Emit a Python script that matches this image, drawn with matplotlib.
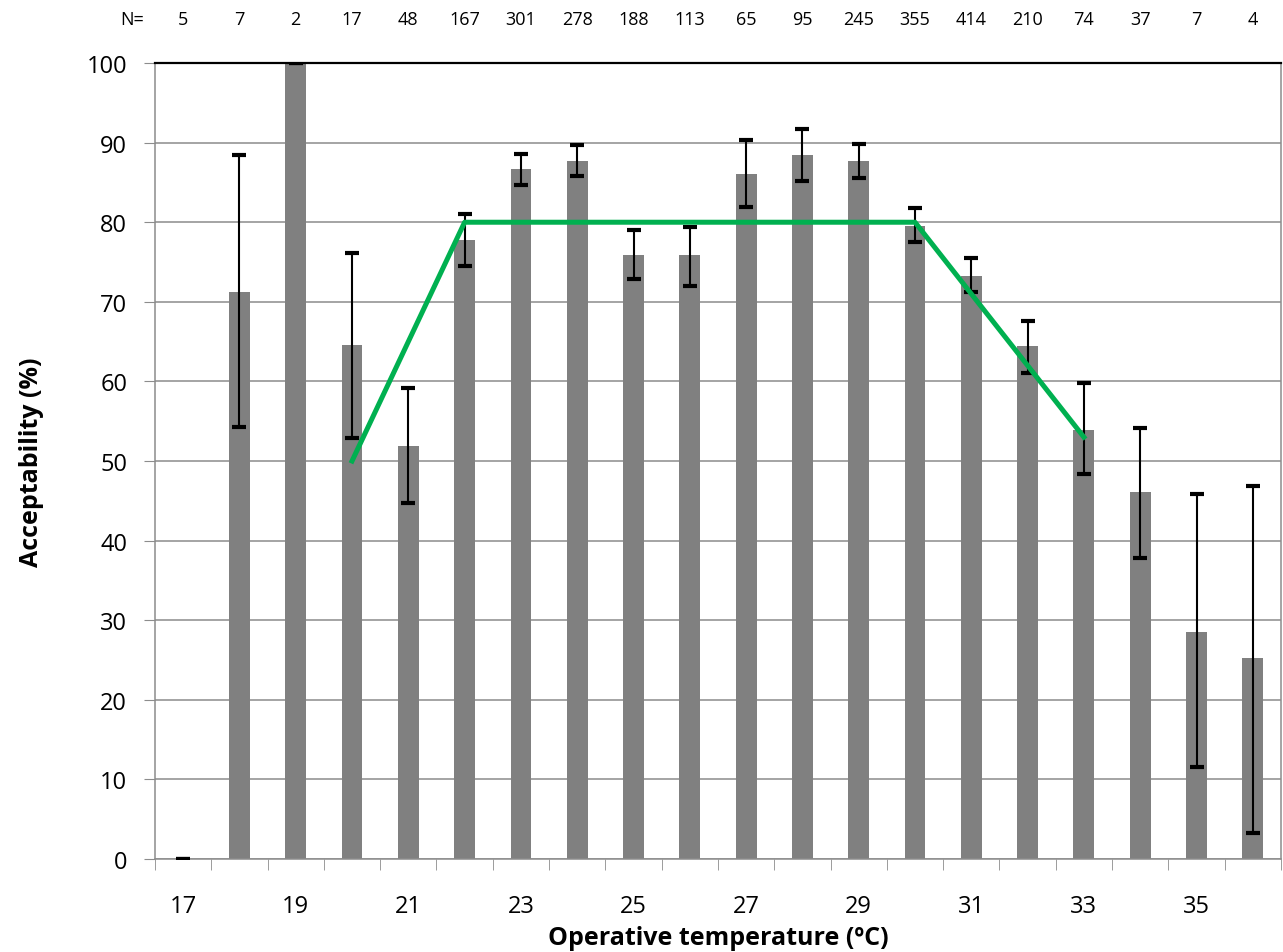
import numpy as np
import matplotlib
matplotlib.use("Agg")
import matplotlib.pyplot as plt
from matplotlib.ticker import FixedLocator

# data
temps = list(range(17, 37))
accept = [0, 71.2, 100, 64.6, 51.9, 77.8, 86.7, 87.7, 75.9, 75.9,
          86.1, 88.4, 87.7, 79.5, 73.2, 64.4, 53.9, 46.1, 28.5, 25.2]
err_hi = [0, 88.4, 100, 76.1, 59.2, 81.0, 88.6, 89.7, 79.0, 79.4,
          90.3, 91.7, 89.8, 81.8, 75.5, 67.6, 59.8, 54.1, 45.8, 46.8]
err_lo = [0, 54.3, 100, 52.9, 44.7, 74.5, 84.7, 85.8, 72.9, 72.0,
          81.9, 85.2, 85.6, 77.5, 71.2, 61.0, 48.4, 37.8, 11.5, 3.3]
n_obs = [5, 7, 2, 17, 48, 167, 301, 278, 188, 113,
         65, 95, 245, 355, 414, 210, 74, 37, 7, 4]
model_t = [20, 22, 30, 33]
model_acc = [50, 80, 80, 53]

plt.rcParams['font.family'] = ['Open Sans', 'DejaVu Sans']

x = np.arange(len(temps))
acc = np.array(accept)
yerr = [acc - np.array(err_lo), np.array(err_hi) - acc]

fig = plt.figure(figsize=(12.83, 9.53), dpi=100)
ax = fig.add_axes([0.1208, 0.0976, 0.8776, 0.8352])

ax.set_axisbelow(True)
ax.yaxis.grid(True, color='#8c8c8c', linewidth=1.1)
ax.bar(x, acc, width=0.37, color='#808080', zorder=2)
ax.errorbar(x, acc, yerr=yerr, fmt='none', ecolor='black', elinewidth=1.5,
            capsize=5, capthick=3, zorder=3)

# green model line, positioned by temperature index
mx = [temps.index(t) for t in model_t]
ax.plot(mx, model_acc, color='#00b050', linewidth=3.6, zorder=4)

ax.set_xlim(-0.5, len(temps) - 0.5)
ax.set_ylim(0, 100)
ax.set_yticks(range(0, 101, 10))
ax.tick_params(axis='y', labelsize=17, length=8, color='#8c8c8c', pad=12)

ax.set_xticks(x[::2])
ax.set_xticklabels([str(t) for t in temps[::2]])
ax.xaxis.set_minor_locator(FixedLocator(np.arange(-0.5, len(temps), 1)))
ax.tick_params(axis='x', which='major', length=0, labelsize=17, pad=25)
ax.tick_params(axis='x', which='minor', length=8, color='#8c8c8c')

for s in ['left', 'bottom', 'right']:
    ax.spines[s].set_color('#8c8c8c')
    ax.spines[s].set_linewidth(1.1)
ax.spines['top'].set_color('black')
ax.spines['top'].set_linewidth(1.6)

ax.set_ylabel('Acceptability (%)', fontsize=18, fontweight='bold', labelpad=31)
ax.set_xlabel('Operative temperature (ºC)', fontsize=18, fontweight='bold', labelpad=5)

# sample size row above the plot
for xi, n in zip(x, n_obs):
    ax.text(xi, 1.055, str(n), transform=ax.get_xaxis_transform(),
            ha='center', va='center', fontsize=13)
ax.text(-0.9, 1.055, 'N=', transform=ax.get_xaxis_transform(),
        ha='center', va='center', fontsize=13)

fig.savefig('out.png', dpi=100)
